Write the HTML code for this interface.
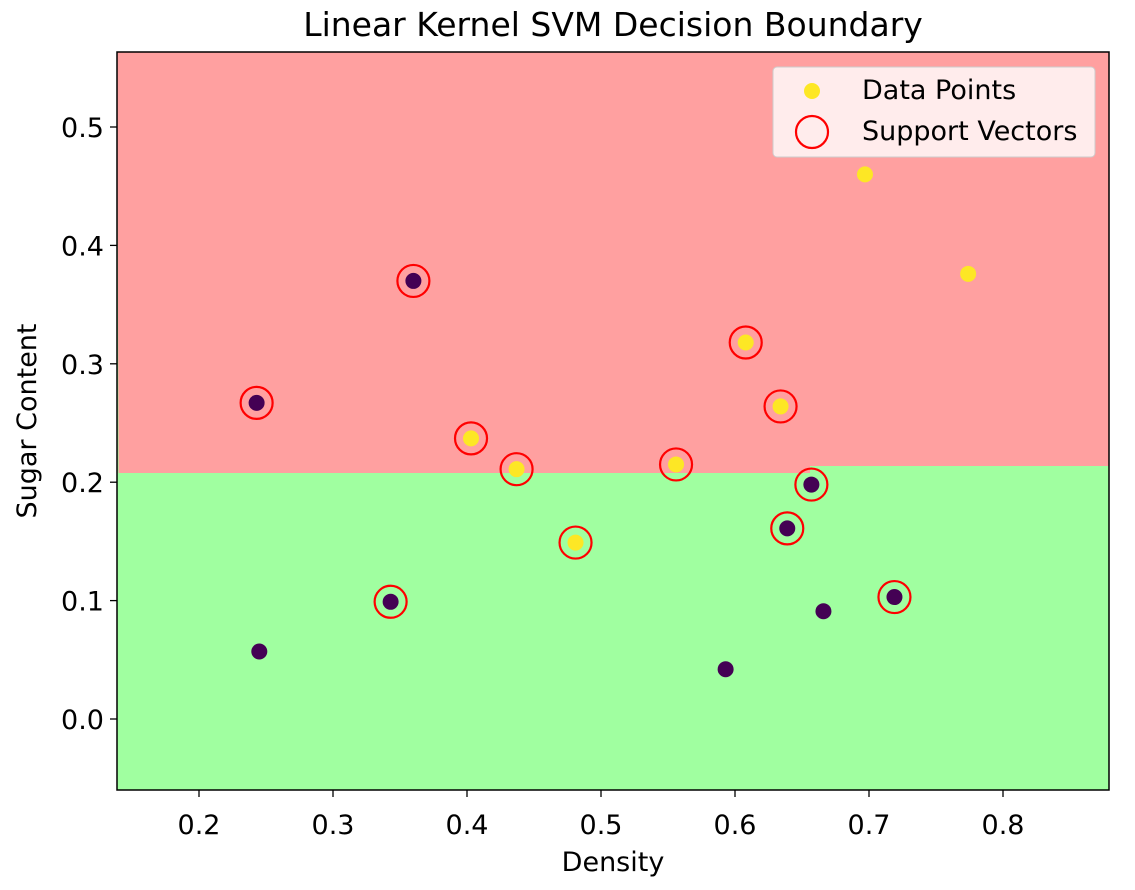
<!DOCTYPE html>
<html><head><meta charset="utf-8"><style>
body{margin:0;background:#fff;font-family:"Liberation Sans","DejaVu Sans",sans-serif}
svg text{font-family:"DejaVu Sans","Liberation Sans",sans-serif}
</style></head><body>
<svg id="chart" width="1135" height="885" xmlns="http://www.w3.org/2000/svg">
<g id="plot"></g>
</svg>
<script>
const xTicks=[0.2,0.3,0.4,0.5,0.6,0.7,0.8];
const yTicks=[0.0,0.1,0.2,0.3,0.4,0.5];
const classAX=[0.697,0.774,0.608,0.634,0.403,0.437,0.556,0.481];
const classAY=[0.460,0.376,0.318,0.264,0.237,0.211,0.215,0.149];
const classBX=[0.360,0.243,0.657,0.639,0.343,0.719,0.666,0.593,0.245];
const classBY=[0.370,0.267,0.198,0.161,0.099,0.103,0.091,0.042,0.057];
const svX=[0.360,0.243,0.403,0.437,0.556,0.608,0.634,0.657,0.639,0.481,0.343,0.719];
const svY=[0.370,0.267,0.237,0.211,0.215,0.318,0.264,0.198,0.161,0.149,0.099,0.103];
const boundaryX=[0.14,0.656,0.656,0.88];
const boundaryY=[0.2078,0.2078,0.2137,0.2137];
const L=117,R=1109,T=52,B=790;
const sx=v=>199+(v-0.2)*1340;
const sy=v=>719-v*1184;
const ns="http://www.w3.org/2000/svg";
const g=document.getElementById('plot');
function mk(t,a){const e=document.createElementNS(ns,t);for(const k in a)e.setAttribute(k,a[k]);g.appendChild(e);return e;}
let bg=mk('rect',{x:L,y:T,width:R-L,height:B-T,fill:'#a0ffa0'});


let pts=[[L,T],[R,T]];
for(let i=boundaryX.length-1;i>=0;i--)pts.push([Math.min(R,Math.max(L,sx(boundaryX[i]))),sy(boundaryY[i])]);
let red=mk('polygon',{points:pts.map(p=>p.join(',')).join(' '),fill:'#ffa0a0'});


classAX.forEach((x,i)=>{let c=mk('circle',{cx:sx(x),cy:sy(classAY[i]),r:8,fill:'#fde725'});

});
classBX.forEach((x,i)=>{let c=mk('circle',{cx:sx(x),cy:sy(classBY[i]),r:8,fill:'#440154'});

});
svX.forEach((x,i)=>{let c=mk('circle',{cx:sx(x),cy:sy(svY[i]),r:16,fill:'none',stroke:'#ff0000','stroke-width':2.2});

});
let fr=mk('rect',{x:L,y:T,width:R-L,height:B-T,fill:'none',stroke:'#000','stroke-width':1.5});


xTicks.forEach(v=>{const x=sx(v);mk('line',{x1:x,x2:x,y1:B,y2:B+7,stroke:'#000','stroke-width':1.3});
let t=mk('text',{x:x,y:B+44,'text-anchor':'middle','font-size':27});t.textContent=v.toFixed(1);

});
yTicks.forEach(v=>{const y=sy(v);mk('line',{x1:L-7,x2:L,y1:y,y2:y,stroke:'#000','stroke-width':1.3});
let t=mk('text',{x:L-13,y:y+10,'text-anchor':'end','font-size':27});t.textContent=v.toFixed(1);

});
let tt=mk('text',{x:613,y:36,'text-anchor':'middle','font-size':33});tt.textContent='Linear Kernel SVM Decision Boundary';


let xl=mk('text',{x:613,y:871,'text-anchor':'middle','font-size':27});xl.textContent='Density';


let yl=mk('text',{x:0,y:0,'text-anchor':'middle','font-size':27,transform:'translate(36,421) rotate(-90)'});yl.textContent='Sugar Content';


let lg=mk('rect',{x:773,y:67,width:322,height:90,rx:4,fill:'#fff','fill-opacity':0.8,stroke:'#ccc'});


let l1=mk('circle',{cx:812,cy:91,r:8,fill:'#fde725'});


let l2=mk('circle',{cx:812,cy:132,r:16,fill:'none',stroke:'#ff0000','stroke-width':2.2});


let t1=mk('text',{x:862,y:99,'font-size':27});t1.textContent='Data Points';


let t2=mk('text',{x:862,y:140,'font-size':27});t2.textContent='Support Vectors';


</script>
</body></html>
